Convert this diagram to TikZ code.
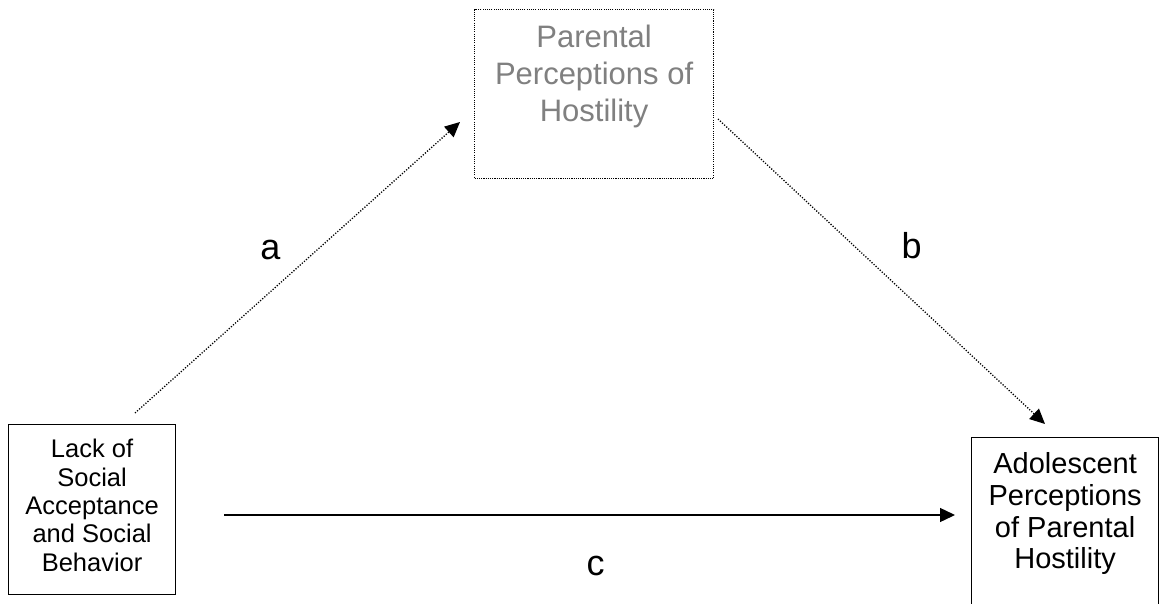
\documentclass[tikz,border=0pt]{standalone}
\usepackage{fontspec}
\setmainfont{Liberation Sans}
\usetikzlibrary{arrows.meta}
\newcommand\stacktext[1]{\vtop{\halign{\hfil##\hfil\cr#1\crcr}}}
\tikzset{
  boxstyle/.style={draw=black, line width=1.2pt, inner sep=0pt, anchor=north west},
  dotbox/.style={draw=black, line width=1.2pt, dash pattern=on 1.1pt off 1.1pt, inner sep=0pt, anchor=north west},
  dotlink/.style={line width=1.3pt, dash pattern=on 1.2pt off 1.6pt, -{Triangle[length=15pt,width=14pt]}},
  solidlink/.style={line width=1.4pt, -{Triangle[length=15pt,width=14pt]}},
  lab/.style={font=\fontsize{36}{40}\selectfont, anchor=base, inner sep=0pt}
}
\begin{document}
\begin{tikzpicture}[x=1pt,y=-1pt]
\fill[white] (0,0) rectangle (1166,604);
\useasboundingbox (0,0) rectangle (1166,604);
\clip (0,0) rectangle (1166,604);
% boxes
\node[dotbox, minimum width=239pt, text height=38pt, text depth=131pt,
      text=black!50, font=\fontsize{31}{37}\selectfont] (tbox) at (474,9)
  {\stacktext{Parental\cr Perceptions of\cr Hostility}};
\node[boxstyle, minimum width=167pt, text height=33pt, text depth=137pt,
      font=\fontsize{25.5}{28.4}\selectfont] (lbox) at (8,424)
  {\stacktext{Lack of\cr Social\cr Acceptance\cr and Social\cr Behavior}};
\node[boxstyle, minimum width=187pt, text height=36pt, text depth=150pt,
      font=\fontsize{29}{31.7}\selectfont] (rbox) at (971,437)
  {\stacktext{Adolescent\cr Perceptions\cr of Parental\cr Hostility}};
% connector ends
\coordinate (a0) at (135,413);
\coordinate (a1) at (460,122);
\coordinate (b0) at (718,119);
\coordinate (b1) at (1045,424);
\coordinate (c0) at (224,515);
\coordinate (c1) at (955,515);
\draw[dotlink] (a0) -- (a1);
\draw[dotlink] (b0) -- (b1);
\draw[solidlink] (c0) -- (c1);
% labels
\node[lab] (la) at (270.5,259) {a};
\node[lab] (lb) at (911.5,258) {b};
\node[lab] (lc) at (595.5,575) {c};
\end{tikzpicture}
\end{document}
